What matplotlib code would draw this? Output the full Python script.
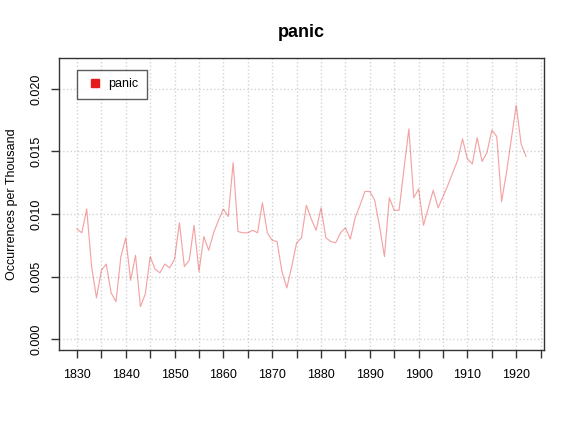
import numpy as np
import matplotlib
matplotlib.use('Agg')
import matplotlib.pyplot as plt
from matplotlib.lines import Line2D

plt.rcParams['font.family'] = ['Liberation Sans', 'DejaVu Sans']

years = list(range(1830, 1923))
panic = [
    0.0088, 0.0085, 0.0104, 0.0058, 0.0033, 0.0055, 0.0060, 0.0037, 0.0030, 0.0066,
    0.0081, 0.0047, 0.0067, 0.0026, 0.0036, 0.0066, 0.0056, 0.0053, 0.0060, 0.0057,
    0.0064, 0.0093, 0.0058, 0.0063, 0.0091, 0.0054, 0.0082, 0.0071, 0.0085, 0.0095,
    0.0104, 0.0098, 0.0141, 0.0086, 0.0085, 0.0085, 0.0087, 0.0085, 0.0109, 0.0085,
    0.0079, 0.0078, 0.0054, 0.0041, 0.0058, 0.0077, 0.0081, 0.0107, 0.0096, 0.0087,
    0.0105, 0.0081, 0.0078, 0.0077, 0.0085, 0.0089, 0.0080, 0.0097, 0.0107, 0.0118,
    0.0118, 0.0111, 0.0090, 0.0066, 0.0113, 0.0103, 0.0103, 0.0136, 0.0168, 0.0113,
    0.0120, 0.0091, 0.0105, 0.0119, 0.0105, 0.0114, 0.0123, 0.0133, 0.0143, 0.0160,
    0.0144, 0.0140, 0.0161, 0.0142, 0.0149, 0.0167, 0.0162, 0.0110, 0.0133, 0.0160,
    0.0187, 0.0156, 0.0146,
]
x_ticks = list(range(1830, 1930, 5))
x_labels = [str(y) if y % 10 == 0 and y <= 1920 else "" for y in x_ticks]
y_ticks = [0.000, 0.005, 0.010, 0.015, 0.020]
y_labels = ["0.000", "0.005", "0.010", "0.015", "0.020"]

fig = plt.figure(figsize=(5.75, 4.25), dpi=100)
ax = fig.add_axes([0.1026, 0.1765, 0.8434, 0.687])

ax.plot(years, panic, color='#E41A1C', alpha=0.4, linewidth=0.85)

# R-style 4% padding
xr = years[-1] - years[0]
ax.set_xlim(years[0] - 0.04 * xr, years[-1] + 0.04 * xr)
ymax = 0.0216
ax.set_ylim(-0.04 * ymax, ymax * 1.04)

ax.set_xticks(x_ticks)
ax.set_xticklabels(x_labels, fontsize=9)
ax.set_yticks(y_ticks)
ax.set_yticklabels(y_labels, fontsize=9, rotation=90, va='center')

ax.grid(True, color='#d3d3d3', linestyle=':', linewidth=1.0)
ax.set_axisbelow(True)
ax.tick_params(axis='x', direction='out', length=6, width=1, colors='#333333',
               labelcolor='black', pad=8)
ax.tick_params(axis='y', direction='out', length=6, width=1, colors='#333333',
               labelcolor='black', pad=6)

for s in ax.spines.values():
    s.set_color('#333333')
    s.set_linewidth(1.0)

ax.set_title("panic", fontsize=13, fontweight='bold', pad=15)
ax.set_ylabel("Occurrences per Thousand", fontsize=9, labelpad=9)

handle = Line2D([], [], marker='s', linestyle='none', color='#E41A1C', markersize=5.5)
leg = ax.legend([handle], ["panic"], loc='upper left', fontsize=9, frameon=True,
                fancybox=False, borderpad=0.7, handletextpad=0.3, handlelength=1.5,
                borderaxespad=0, bbox_to_anchor=(0.037, 0.96))
leg.get_frame().set_edgecolor('#333333')
leg.get_frame().set_linewidth(1.0)

fig.savefig('out.png', dpi=100)
